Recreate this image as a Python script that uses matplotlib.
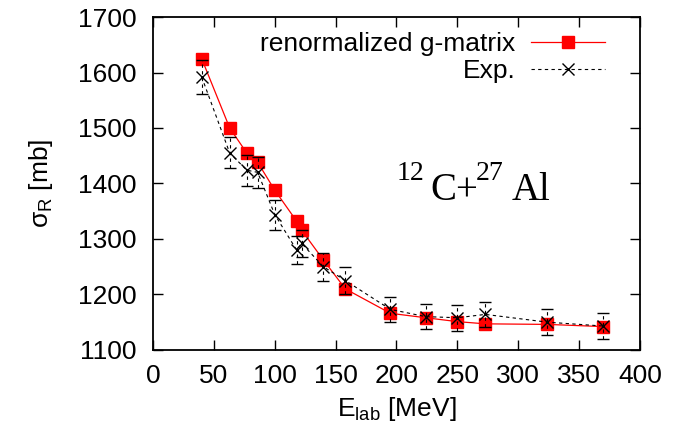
import matplotlib
matplotlib.use('Agg')
import matplotlib.pyplot as plt

plt.rcParams['font.family'] = ['Liberation Sans', 'DejaVu Sans']

# renormalized g-matrix
e_calc = [40, 63, 77, 86, 100, 118, 122, 140, 158, 195, 224, 250, 273, 324, 370]
sig_calc = [1625, 1500, 1455, 1438, 1388, 1332, 1316, 1262, 1210, 1166, 1158, 1151, 1147, 1146, 1142]

# experimental
e_exp = [40, 63, 77, 86, 100, 118, 122, 140, 158, 195, 224, 250, 273, 324, 370]
sig_exp = [1592, 1455, 1424, 1420, 1344, 1280, 1292, 1250, 1225, 1173, 1160, 1158, 1164, 1150, 1143]
err_exp = [30, 28, 28, 28, 27, 25, 25, 25, 24, 23, 23, 23, 23, 23, 23]

fs = 19

fig = plt.figure(figsize=(6.91, 4.32), dpi=100)
ax = fig.add_axes([0.2214, 0.19, 0.7048, 0.7706])

ln1, = ax.plot(e_calc, sig_calc, color='red', linewidth=0.9, marker='s',
               markersize=8.5, zorder=3)
eb = ax.errorbar(e_exp, sig_exp, yerr=err_exp, color='black', linestyle=(0, (3, 3)),
                 linewidth=0.8, marker='x', markersize=9, markeredgewidth=1.0,
                 capsize=4.5, elinewidth=0.8, capthick=0.8, zorder=4)
eb[2][0].set_linestyle((0, (3, 3)))

ax.legend([ln1, eb[0]], ['renormalized g-matrix', 'Exp.'], loc='upper right',
          markerfirst=False, frameon=False, fontsize=fs, handlelength=2.8,
          handletextpad=0.6, labelspacing=0.12, borderpad=0, borderaxespad=0,
          bbox_to_anchor=(0.928, 0.955))

# 12C+27Al label, gnuplot-style large superscripts
serif = 'Liberation Serif'
ax.text(200.4, 1406, '12', fontsize=20, family=serif, va='baseline')
ax.text(227.5, 1370, 'C+', fontsize=28, family=serif, va='baseline')
ax.text(265.3, 1406, '27', fontsize=20, family=serif, va='baseline')
ax.text(294.9, 1370, 'Al', fontsize=28, family=serif, va='baseline')

ax.set_xlim(0, 400)
ax.set_ylim(1100, 1700)
ax.set_xticks(range(0, 401, 50))
ax.set_yticks(range(1100, 1701, 100))
ax.tick_params(direction='in', top=True, right=True, length=7, width=1.0,
               labelsize=fs, pad=10)
ax.tick_params(axis='y', pad=12)
for s in ax.spines.values():
    s.set_linewidth(1.3)

ax.set_xlabel(r'E$_{\mathregular{lab}}$ [MeV]', fontsize=fs, labelpad=5)
ax.set_ylabel(r'σ$_{\mathregular{R}}$ [mb]', fontsize=fs, labelpad=16)

fig.savefig('out.png', dpi=100)
